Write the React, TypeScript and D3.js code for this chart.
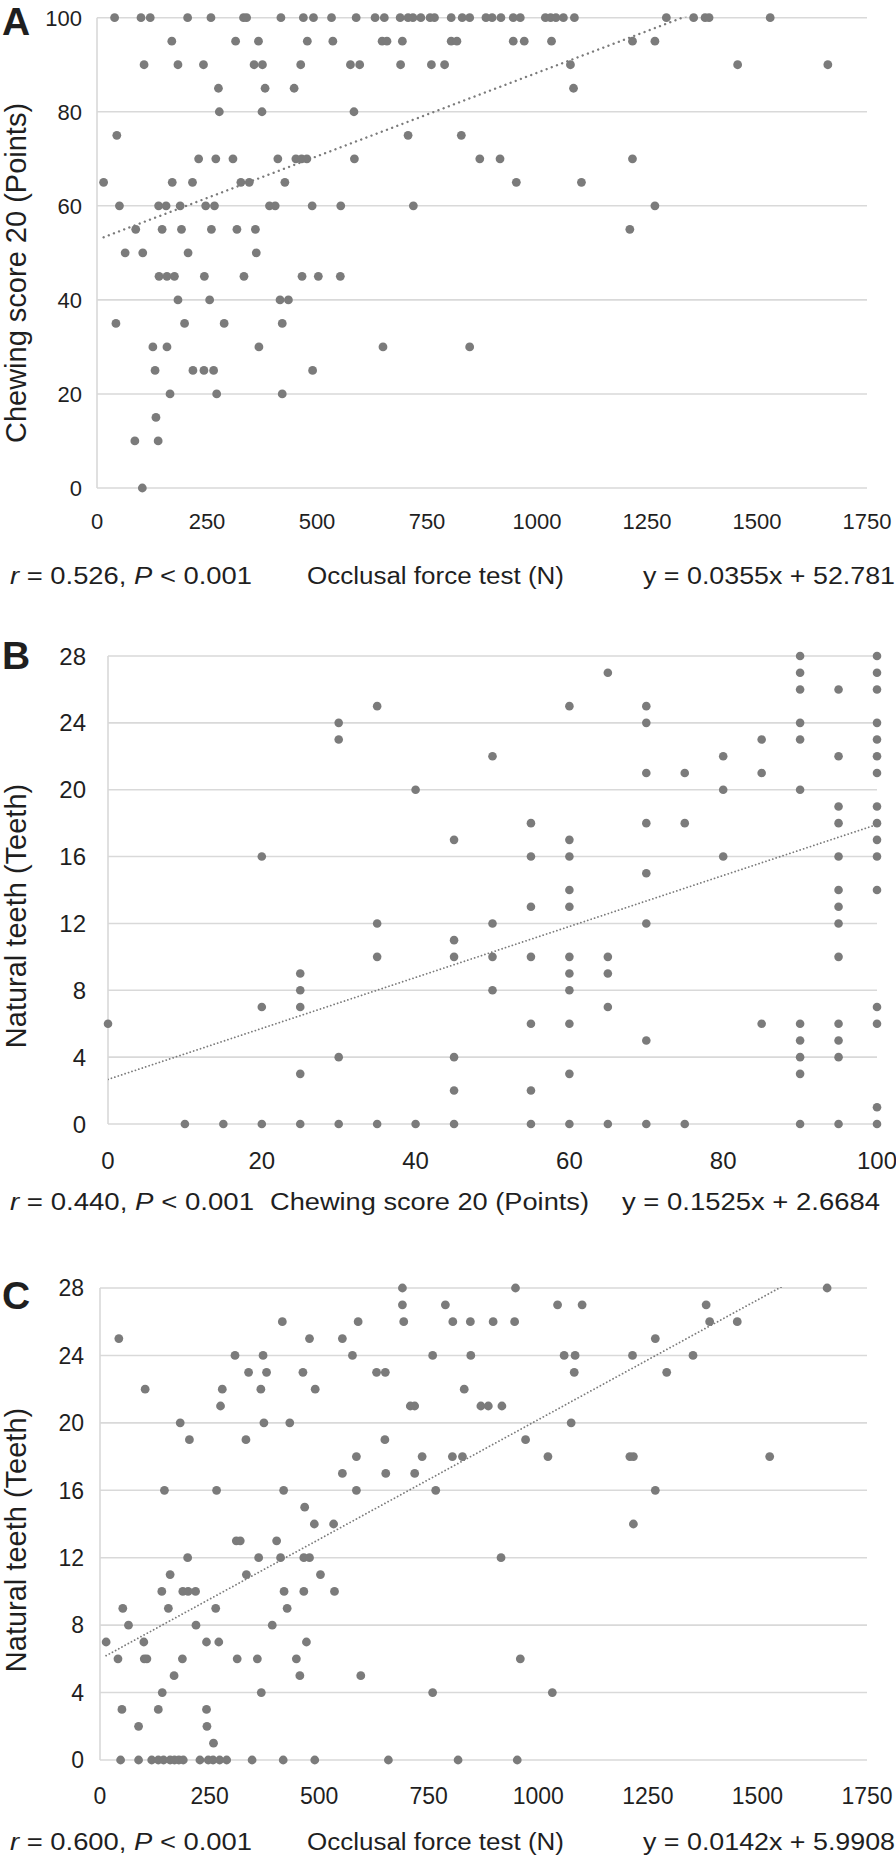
import React from "react";
import * as d3 from "d3";

// ---------------- Panel A: occlusal force (N) vs chewing score ----------------
const chewLevelsA = [100, 95, 90, 85, 80, 75, 70, 65, 60, 55, 50, 45, 40, 35, 30, 25, 20, 15, 10, 0];
const forceAtChewA = [
  [40, 100, 121, 206, 259, 333, 340, 418, 469, 492, 533, 589, 632, 653, 689, 707, 718, 736, 757, 767, 805, 830, 847, 884, 898, 918, 946, 962, 1019, 1031, 1043, 1060, 1085, 1294, 1356, 1382, 1391, 1530],
  [170, 315, 367, 478, 536, 648, 659, 694, 805, 818, 946, 971, 1033, 1217, 1268],
  [107, 184, 242, 357, 376, 463, 576, 597, 690, 760, 790, 1076, 1456, 1661],
  [276, 382, 448, 1083],
  [278, 375, 584],
  [45, 707, 828],
  [231, 270, 309, 411, 452, 465, 477, 585, 870, 916, 1217],
  [15, 171, 217, 327, 346, 427, 953, 1101],
  [51, 140, 157, 189, 247, 267, 392, 405, 489, 554, 719, 1268],
  [88, 148, 192, 260, 318, 360, 1211],
  [64, 104, 207, 362],
  [141, 159, 176, 244, 334, 466, 503, 553],
  [184, 256, 416, 435],
  [43, 199, 289, 421],
  [127, 159, 368, 650, 847],
  [132, 218, 243, 265, 490],
  [166, 272, 421],
  [134],
  [86, 139],
  [103],
];

// ---------------- Panel B: chewing score vs natural teeth ----------------
const chewScoresB = [0, 10, 15, 20, 25, 30, 35, 40, 45, 50, 55, 60, 65, 70, 75, 80, 85, 90, 95, 100];
const teethAtChewB = [
  [6],
  [0],
  [0],
  [16, 7, 0],
  [9, 8, 7, 3, 0],
  [24, 23, 4, 0],
  [25, 12, 10, 0],
  [20, 0],
  [17, 11, 10, 4, 2, 0],
  [22, 12, 10, 8],
  [18, 16, 13, 10, 6, 2, 0],
  [25, 17, 16, 14, 13, 10, 9, 8, 6, 3, 0],
  [27, 10, 9, 7, 0],
  [25, 24, 21, 18, 15, 12, 5, 0],
  [21, 18, 0],
  [22, 20, 16],
  [23, 21, 6],
  [28, 27, 26, 24, 23, 20, 6, 5, 4, 3, 0],
  [26, 22, 19, 18, 16, 14, 13, 12, 10, 6, 5, 4, 0],
  [28, 27, 26, 24, 23, 22, 21, 19, 18, 17, 16, 14, 7, 6, 1, 0],
];

// ---------------- Panel C: occlusal force (N) vs natural teeth ----------------
const teethLevelsC = [28, 27, 26, 25, 24, 23, 22, 21, 20, 19, 18, 17, 16, 15, 14, 13, 12, 11, 10, 9, 8, 7, 6, 5, 4, 3, 2, 1, 0];
const forceAtTeethC = [
  [690, 948, 1659],
  [690, 788, 1044, 1100, 1383],
  [416, 589, 693, 805, 845, 897, 946, 1391, 1454],
  [43, 478, 553, 1267],
  [308, 372, 576, 759, 846, 1059, 1084, 1215, 1353],
  [339, 380, 463, 631, 651, 1082, 1293],
  [103, 279, 367, 491, 831],
  [275, 708, 718, 869, 886, 917],
  [183, 374, 433, 1075],
  [204, 333, 650, 971],
  [585, 735, 804, 827, 1022, 1209, 1217, 1528],
  [553, 652, 718],
  [147, 266, 419, 585, 766, 1267],
  [467],
  [489, 533, 1217],
  [311, 320, 403],
  [200, 362, 412, 465, 478, 915],
  [160, 334, 503],
  [141, 189, 201, 218, 420, 465, 535],
  [52, 156, 264, 427],
  [65, 219, 393],
  [14, 100, 243, 271, 471],
  [41, 101, 107, 188, 313, 359, 448, 959],
  [169, 456, 595],
  [142, 368, 759, 1032],
  [50, 133, 243],
  [88, 244],
  [259],
  [47, 88, 118, 133, 145, 160, 170, 180, 190, 228, 247, 258, 273, 289, 347, 418, 490, 658, 817, 952],
];

// axis ticks
const forceTicks = [0, 250, 500, 750, 1000, 1250, 1500, 1750];
const chewTicks = [0, 20, 40, 60, 80, 100];
const teethTicks = [0, 4, 8, 12, 16, 20, 24, 28];

// regression results shown in the figure
const slopes = [0.0355, 0.1525, 0.0142];
const intercepts = [52.781, 2.6684, 5.9908];
const rValues = ["0.526", "0.440", "0.600"];
const equations = ["y = 0.0355x + 52.781", "y = 0.1525x + 2.6684", "y = 0.0142x + 5.9908"];

const pointsA: [number, number][] = chewLevelsA.flatMap((c, i) => forceAtChewA[i].map((f) => [f, c] as [number, number]));
const pointsB: [number, number][] = chewScoresB.flatMap((c, i) => teethAtChewB[i].map((t) => [c, t] as [number, number]));
const pointsC: [number, number][] = teethLevelsC.flatMap((t, i) => forceAtTeethC[i].map((f) => [f, t] as [number, number]));

const FONT = "'Liberation Sans', Arial, Helvetica, sans-serif";
const TEXT = "#1f1f1f";
const DOT = "#7b7b7b";
const GRID = "#d9d9d9";

type PanelProps = {
  id: string;
  letter: string;
  letterY: number;
  points: [number, number][];
  xDomain: [number, number];
  yDomain: [number, number];
  xTicks: number[];
  yTicks: number[];
  left: number;
  right: number;
  top: number;
  bottom: number;
  tickFont: number;
  yLabelRight: number;
  xLabelY: number;
  yTitle: string;
  yTitleY: number;
  slope: number;
  intercept: number;
  dash: string;
  dashWidth: number;
  r: string;
  xTitle: string;
  eq: string;
  textY: number;
  rLen: number;
  titleX: number;
  titleLen: number;
  eqEnd: number;
  eqLen: number;
  dotR: number;
};

function Panel(p: PanelProps) {
  const x = d3.scaleLinear().domain(p.xDomain).range([p.left, p.right]);
  const y = d3.scaleLinear().domain(p.yDomain).range([p.bottom, p.top]);
  const xs = p.points.map((d) => d[0]);
  const x0 = d3.min(xs) as number;
  const x1 = d3.max(xs) as number;
  const trend = d3
    .line<number>()
    .x((v) => x(v))
    .y((v) => y(p.slope * v + p.intercept))([x0, x1]) as string;

  return (
    <g>
      <defs>
        <clipPath id={p.id}>
          <rect x={p.left} y={p.top - 1} width={p.right - p.left} height={p.bottom - p.top + 2} />
        </clipPath>
      </defs>
      {p.yTicks.map((t) => (
        <line key={"g" + t} x1={p.left} x2={p.right} y1={y(t)} y2={y(t)} stroke={GRID} strokeWidth={1.6} />
      ))}
      <line x1={p.left} x2={p.left} y1={p.top} y2={p.bottom} stroke={GRID} strokeWidth={1.6} />
      {p.yTicks.map((t) => (
        <text
          key={"yl" + t}
          x={p.yLabelRight}
          y={y(t)}
          dy="0.36em"
          textAnchor="end"
          fontSize={p.tickFont}
          fill={TEXT}
          fontFamily={FONT}
        >
          {t}
        </text>
      ))}
      {p.xTicks.map((t) => (
        <text
          key={"xl" + t}
          x={x(t)}
          y={p.xLabelY}
          dy="0.36em"
          textAnchor="middle"
          fontSize={p.tickFont}
          fill={TEXT}
          fontFamily={FONT}
        >
          {t}
        </text>
      ))}
      {p.points.map((d, i) => (
        <circle key={"p" + i} cx={x(d[0])} cy={y(d[1])} r={p.dotR} fill={DOT} />
      ))}
      <path
        d={trend}
        clipPath={`url(#${p.id})`}
        fill="none"
        stroke={DOT}
        strokeWidth={p.dashWidth}
        strokeDasharray={p.dash}
        strokeLinecap="round"
      />
      <text x={2} y={p.letterY} fontSize={39} fontWeight="bold" fill={TEXT} fontFamily={FONT}>
        {p.letter}
      </text>
      <text
        transform={`translate(26,${p.yTitleY}) rotate(-90)`}
        textAnchor="middle"
        fontSize={29}
        fill={TEXT}
        fontFamily={FONT}
      >
        {p.yTitle}
      </text>
      <text x={10} y={p.textY} fontSize={23} fill={TEXT} fontFamily={FONT} textLength={p.rLen} lengthAdjust="spacingAndGlyphs">
        <tspan fontStyle="italic">r</tspan>
        {` = ${p.r}, `}
        <tspan fontStyle="italic">P</tspan>
        {" < 0.001"}
      </text>
      <text x={p.titleX} y={p.textY} fontSize={23} fill={TEXT} fontFamily={FONT} textLength={p.titleLen} lengthAdjust="spacingAndGlyphs">
        {p.xTitle}
      </text>
      <text
        x={p.eqEnd - p.eqLen}
        y={p.textY}
        fontSize={23}
        fill={TEXT}
        fontFamily={FONT}
        textLength={p.eqLen}
        lengthAdjust="spacingAndGlyphs"
      >
        {p.eq}
      </text>
    </g>
  );
}

export default function App() {
  return (
    <svg
      width={896}
      height={1856}
      viewBox="0 0 896 1856"
      style={{ position: "absolute", left: 0, top: 0, background: "#fff" }}
    >
      <rect x={0} y={0} width={896} height={1856} fill="#fff" />
      <Panel
        id="clipA"
        letter="A"
        letterY={35}
        points={pointsA}
        xDomain={[0, 1750]}
        yDomain={[0, 100]}
        xTicks={forceTicks}
        yTicks={chewTicks}
        left={97}
        right={867}
        top={17.7}
        bottom={488}
        tickFont={22}
        yLabelRight={82}
        xLabelY={521}
        yTitle="Chewing score 20 (Points)"
        yTitleY={273}
        slope={slopes[0]}
        intercept={intercepts[0]}
        dash="0.01 5.5"
        dashWidth={2.4}
        r={rValues[0]}
        xTitle="Occlusal force test (N)"
        eq={equations[0]}
        textY={584}
        rLen={242}
        titleX={307}
        titleLen={257}
        eqEnd={895}
        eqLen={252}
        dotR={4.4}
      />
      <Panel
        id="clipB"
        letter="B"
        letterY={669}
        points={pointsB}
        xDomain={[0, 100]}
        yDomain={[0, 28]}
        xTicks={chewTicks}
        yTicks={teethTicks}
        left={108}
        right={877}
        top={656}
        bottom={1124}
        tickFont={24}
        yLabelRight={86}
        xLabelY={1160}
        yTitle="Natural teeth (Teeth)"
        yTitleY={916}
        slope={slopes[1]}
        intercept={intercepts[1]}
        dash="0.01 3.6"
        dashWidth={1.8}
        r={rValues[1]}
        xTitle="Chewing score 20 (Points)"
        eq={equations[1]}
        textY={1210}
        rLen={244}
        titleX={270}
        titleLen={319}
        eqEnd={880}
        eqLen={258}
        dotR={4.3}
      />
      <Panel
        id="clipC"
        letter="C"
        letterY={1309}
        points={pointsC}
        xDomain={[0, 1750]}
        yDomain={[0, 28]}
        xTicks={forceTicks}
        yTicks={teethTicks}
        left={100}
        right={867}
        top={1288}
        bottom={1760}
        tickFont={23}
        yLabelRight={84}
        xLabelY={1796}
        yTitle="Natural teeth (Teeth)"
        yTitleY={1540}
        slope={slopes[2]}
        intercept={intercepts[2]}
        dash="0.01 3.6"
        dashWidth={1.8}
        r={rValues[2]}
        xTitle="Occlusal force test (N)"
        eq={equations[2]}
        textY={1850}
        rLen={242}
        titleX={307}
        titleLen={257}
        eqEnd={895}
        eqLen={252}
        dotR={4.4}
      />
    </svg>
  );
}
